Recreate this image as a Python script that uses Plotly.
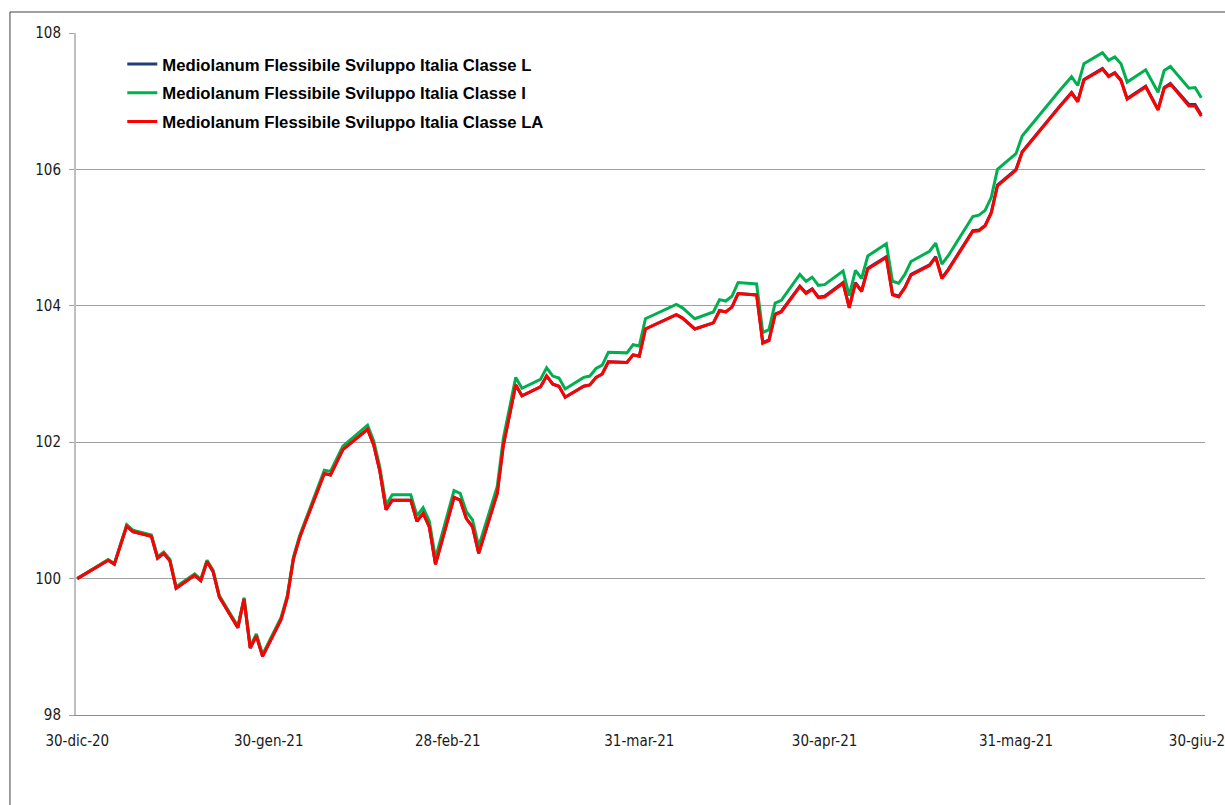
import plotly.graph_objects as go

dates = [
    "2020-12-30", "2021-01-04", "2021-01-05", "2021-01-07", "2021-01-08", "2021-01-11",
    "2021-01-12", "2021-01-13", "2021-01-14", "2021-01-15", "2021-01-18", "2021-01-19",
    "2021-01-20", "2021-01-21", "2021-01-22", "2021-01-25", "2021-01-26", "2021-01-27",
    "2021-01-28", "2021-01-29", "2021-02-01", "2021-02-02", "2021-02-03", "2021-02-04",
    "2021-02-05", "2021-02-08", "2021-02-09", "2021-02-11", "2021-02-15", "2021-02-16",
    "2021-02-17", "2021-02-18", "2021-02-19", "2021-02-22", "2021-02-23", "2021-02-24",
    "2021-02-25", "2021-02-26", "2021-03-01", "2021-03-02", "2021-03-03", "2021-03-04",
    "2021-03-05", "2021-03-08", "2021-03-09", "2021-03-10", "2021-03-11", "2021-03-12",
    "2021-03-15", "2021-03-16", "2021-03-17", "2021-03-18", "2021-03-19", "2021-03-22",
    "2021-03-23", "2021-03-24", "2021-03-25", "2021-03-26", "2021-03-29", "2021-03-30",
    "2021-03-31", "2021-04-01", "2021-04-06", "2021-04-07", "2021-04-09", "2021-04-12",
    "2021-04-13", "2021-04-14", "2021-04-15", "2021-04-16", "2021-04-19", "2021-04-20",
    "2021-04-21", "2021-04-22", "2021-04-23", "2021-04-26", "2021-04-27", "2021-04-28",
    "2021-04-29", "2021-04-30", "2021-05-03", "2021-05-04", "2021-05-05", "2021-05-06",
    "2021-05-07", "2021-05-10", "2021-05-11", "2021-05-12", "2021-05-13", "2021-05-14",
    "2021-05-17", "2021-05-18", "2021-05-19", "2021-05-20", "2021-05-24", "2021-05-25",
    "2021-05-26", "2021-05-27", "2021-05-28", "2021-05-31", "2021-06-01", "2021-06-07",
    "2021-06-09", "2021-06-10", "2021-06-11", "2021-06-14", "2021-06-15", "2021-06-16",
    "2021-06-17", "2021-06-18", "2021-06-21", "2021-06-23", "2021-06-24", "2021-06-25",
    "2021-06-28", "2021-06-29", "2021-06-30",
]

classe_la = [
    100.00, 100.27, 100.21, 100.77, 100.69, 100.62, 100.30, 100.37, 100.26, 99.86,
    100.05, 99.97, 100.25, 100.10, 99.73, 99.28, 99.70, 98.98, 99.16, 98.86,
    99.40, 99.72, 100.29, 100.60, 100.84, 101.54, 101.52, 101.89, 102.19, 101.96,
    101.57, 101.01, 101.15, 101.15, 100.84, 100.96, 100.76, 100.21, 101.19, 101.15,
    100.88, 100.76, 100.37, 101.25, 101.96, 102.42, 102.84, 102.68, 102.81, 102.97,
    102.85, 102.82, 102.66, 102.82, 102.84, 102.95, 103.00, 103.18, 103.17, 103.28,
    103.26, 103.66, 103.87, 103.82, 103.66, 103.75, 103.93, 103.91, 103.98, 104.18,
    104.16, 103.45, 103.49, 103.87, 103.91, 104.28, 104.18, 104.24, 104.12, 104.13,
    104.33, 103.97, 104.33, 104.21, 104.54, 104.71, 104.16, 104.13, 104.26, 104.45,
    104.59, 104.71, 104.40, 104.52, 105.09, 105.10, 105.17, 105.36, 105.76, 105.99,
    106.25, 106.91, 107.12, 106.99, 107.31, 107.47, 107.36, 107.41, 107.30, 107.03,
    107.21, 106.87, 107.19, 107.25, 106.93, 106.93, 106.78,
]

classe_i = [
    100.00, 100.28, 100.22, 100.79, 100.71, 100.64, 100.32, 100.39, 100.28, 99.88,
    100.07, 99.99, 100.27, 100.12, 99.75, 99.30, 99.72, 99.01, 99.19, 98.89,
    99.43, 99.75, 100.32, 100.63, 100.87, 101.59, 101.57, 101.94, 102.25, 102.02,
    101.63, 101.08, 101.23, 101.23, 100.92, 101.04, 100.84, 100.30, 101.29, 101.25,
    100.98, 100.86, 100.47, 101.35, 102.06, 102.52, 102.95, 102.79, 102.92, 103.09,
    102.97, 102.94, 102.78, 102.95, 102.97, 103.08, 103.13, 103.32, 103.31, 103.43,
    103.41, 103.81, 104.02, 103.97, 103.81, 103.91, 104.09, 104.07, 104.14, 104.34,
    104.32, 103.61, 103.65, 104.04, 104.08, 104.46, 104.36, 104.42, 104.30, 104.31,
    104.51, 104.15, 104.52, 104.40, 104.73, 104.91, 104.36, 104.33, 104.46, 104.65,
    104.80, 104.92, 104.61, 104.73, 105.31, 105.33, 105.40, 105.59, 106.00, 106.23,
    106.49, 107.15, 107.36, 107.23, 107.55, 107.71, 107.60, 107.65, 107.55, 107.28,
    107.46, 107.13, 107.45, 107.51, 107.19, 107.20, 107.05,
]

classe_l = [
    100.00, 100.27, 100.21, 100.77, 100.69, 100.62, 100.30, 100.37, 100.26, 99.86,
    100.05, 99.97, 100.25, 100.10, 99.73, 99.28, 99.70, 98.98, 99.16, 98.86,
    99.40, 99.72, 100.29, 100.60, 100.84, 101.54, 101.52, 101.89, 102.19, 101.96,
    101.57, 101.01, 101.15, 101.15, 100.84, 100.96, 100.76, 100.21, 101.19, 101.15,
    100.88, 100.76, 100.37, 101.25, 101.96, 102.42, 102.84, 102.68, 102.81, 102.97,
    102.85, 102.82, 102.66, 102.82, 102.84, 102.95, 103.00, 103.18, 103.17, 103.28,
    103.26, 103.66, 103.87, 103.82, 103.66, 103.75, 103.93, 103.91, 103.98, 104.18,
    104.16, 103.46, 103.50, 103.88, 103.92, 104.29, 104.19, 104.25, 104.13, 104.14,
    104.34, 103.98, 104.34, 104.22, 104.55, 104.72, 104.17, 104.14, 104.27, 104.46,
    104.60, 104.72, 104.41, 104.53, 105.10, 105.11, 105.18, 105.37, 105.77, 106.00,
    106.26, 106.92, 107.13, 107.00, 107.32, 107.48, 107.37, 107.42, 107.31, 107.04,
    107.22, 106.88, 107.20, 107.26, 106.95, 106.95, 106.80,
]

series_names = [
    "Mediolanum Flessibile Sviluppo Italia Classe L",
    "Mediolanum Flessibile Sviluppo Italia Classe I",
    "Mediolanum Flessibile Sviluppo Italia Classe LA",
]
series_colors = ["#1F3D7A", "#00B050", "#FF0000"]

tick_dates = ["2020-12-30", "2021-01-30", "2021-02-28", "2021-03-31",
              "2021-04-30", "2021-05-31", "2021-06-30"]
tick_labels = ["30-dic-20", "30-gen-21", "28-feb-21", "31-mar-21",
               "30-apr-21", "31-mag-21", "30-giu-21"]

fig = go.Figure()
for i, (name, vals, col) in enumerate(zip(series_names, [classe_l, classe_i, classe_la], series_colors)):
    fig.add_trace(go.Scatter(
        x=dates, y=vals, mode="lines", name=name,
        line=dict(color=col, width=3), legendgroup=f"g{i}",
    ))

tick_font = dict(family="Liberation Sans Narrow, DejaVu Sans Condensed, Arial Narrow, sans-serif",
                 size=15, color="#1a1a1a")

fig.update_layout(
    width=1225, height=805,
    margin=dict(l=76, r=20, t=33, b=90),
    paper_bgcolor="white", plot_bgcolor="white",
    showlegend=True,
    legend=dict(
        x=0.041, y=0.980, xanchor="left", yanchor="top",
        bgcolor="rgba(0,0,0,0)", borderwidth=0,
        font=dict(family="Liberation Sans, Arial, sans-serif", size=16.7, color="black", weight="bold"),
        tracegroupgap=4, traceorder="grouped",
    ),
    xaxis=dict(
        type="date",
        range=["2020-12-29 19:00", "2021-06-30 14:30"],
        tickvals=tick_dates, ticktext=tick_labels,
        showgrid=False, zeroline=False,
        showline=True, linecolor="#8C8C8C", linewidth=1,
        ticks="", tickfont=tick_font,
        ticklabelstandoff=12, ticklabeloverflow="allow",
        automargin=False,
    ),
    yaxis=dict(
        range=[98, 108], dtick=2, tick0=98,
        showgrid=True, gridcolor="#A0A0A0", gridwidth=1,
        zeroline=False,
        showline=True, linecolor="#BFBFBF", linewidth=2,
        ticks="outside", ticklen=5, tickcolor="#A0A0A0",
        tickfont=tick_font, ticklabelstandoff=5,
        automargin=False,
    ),
    shapes=[dict(
        type="rect", xref="paper", yref="paper",
        x0=-0.0585, x1=1.08, y0=-0.15, y1=1.0308,
        line=dict(color="#404040", width=1), fillcolor="rgba(0,0,0,0)", layer="below",
    )],
)

fig.write_html("out.html")
